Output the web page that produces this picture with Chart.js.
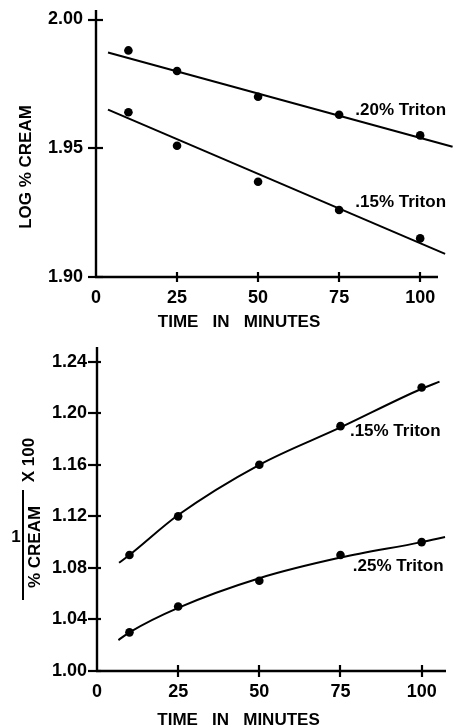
<!DOCTYPE html>
<html>
<head>
<meta charset="utf-8">
<script src="https://cdn.jsdelivr.net/npm/chart.js@4/dist/chart.umd.min.js"></script>
<style>
  html, body { margin: 0; padding: 0; background: #fff; }
  canvas { display: block; }
</style>
</head>
<body>
<canvas id="top" width="453" height="330"></canvas>
<canvas id="bottom" width="453" height="396"></canvas>
<script>
// ---------- data ----------
const timeMin = [10, 25, 50, 75, 100];

// upper panel: log % cream
const logCream20 = [1.988, 1.980, 1.970, 1.963, 1.955];
const logCream15 = [1.964, 1.951, 1.937, 1.926, 1.915];
const fit20X = [3.7, 110];
const fit20Y = [1.9872, 1.9506];
const fit15X = [3.7, 107.7];
const fit15Y = [1.965, 1.909];
const topXTicks = [0, 25, 50, 75, 100];
const topYTicks = [1.90, 1.95, 2.00];

// lower panel: 1 / % cream x 100
const invCream15 = [1.09, 1.12, 1.16, 1.19, 1.22];
const invCream25 = [1.03, 1.05, 1.07, 1.09, 1.10];
const curve15X = [6.8, 10, 25, 50, 75, 100, 105.5];
const curve15Y = [1.084, 1.090, 1.121, 1.160, 1.189, 1.219, 1.2245];
const curve25X = [6.6, 10, 25, 50, 75, 100, 107.2];
const curve25Y = [1.024, 1.030, 1.049, 1.072, 1.088, 1.100, 1.104];
const bottomXTicks = [0, 25, 50, 75, 100];
const bottomYTicks = [1.00, 1.04, 1.08, 1.12, 1.16, 1.20, 1.24];

// ---------- helpers ----------
const FONT = '"Liberation Sans", Arial, sans-serif';
const pts = (xs, ys) => xs.map((x, i) => ({ x: x, y: ys[i] }));

function dots(xs, ys) {
  return { type: 'scatter', data: pts(xs, ys), showLine: false,
    pointRadius: 4.3, pointHoverRadius: 4.3, backgroundColor: '#000', borderColor: '#000', borderWidth: 0 };
}
function curve(xs, ys, smooth) {
  return { type: 'line', data: pts(xs, ys), pointRadius: 0, borderColor: '#000', borderWidth: 2,
    fill: false, clip: false, cubicInterpolationMode: smooth ? 'monotone' : 'default', tension: 0 };
}

function crossTicks(yIn, yOut, xIn, xOut, axisTopExtra) {
  return {
    id: 'crossTicks',
    afterDraw(chart) {
      const ctx = chart.ctx, xs = chart.scales.x, ys = chart.scales.y;
      const a = chart.chartArea;
      const ax = a.left, ay = a.bottom;
      ctx.save();
      ctx.strokeStyle = '#000';
      ctx.lineWidth = 2.4;
      ctx.beginPath(); ctx.moveTo(ax, a.top); ctx.lineTo(ax, ay + 1); ctx.stroke();
      ctx.beginPath(); ctx.moveTo(ax - 1, ay); ctx.lineTo(a.right, ay); ctx.stroke();
      ctx.lineWidth = 2.2;
      ys.ticks.forEach(t => {
        const py = Math.round(ys.getPixelForValue(t.value));
        ctx.beginPath(); ctx.moveTo(ax - yOut, py); ctx.lineTo(ax + yIn, py); ctx.stroke();
      });
      xs.ticks.forEach(t => {
        if (t.value === 0) return;
        const px = Math.round(xs.getPixelForValue(t.value));
        ctx.beginPath(); ctx.moveTo(px, ay - xIn); ctx.lineTo(px, ay + xOut); ctx.stroke();
      });
      ctx.restore();
    }
  };
}

function textPlugin(items) {
  return {
    id: 'texts',
    afterDraw(chart) {
      const ctx = chart.ctx, xs = chart.scales.x, ys = chart.scales.y;
      ctx.save();
      ctx.fillStyle = '#000';
      items.forEach(it => {
        ctx.save();
        ctx.font = (it.weight || 'bold') + ' ' + (it.size || 17) + 'px ' + FONT;
        let px = it.px, py = it.py;
        if (it.dx !== undefined) { px = xs.getPixelForValue(it.dx); py = ys.getPixelForValue(it.dy); }
        ctx.translate(px, py);
        if (it.rot) ctx.rotate(it.rot);
        ctx.textAlign = it.align || 'center';
        ctx.textBaseline = 'middle';
        ctx.fillText(it.text, 0, 0);
        ctx.restore();
      });
      (chart.options.plugins.bars || []).forEach(b => {
        ctx.lineWidth = 2; ctx.strokeStyle = '#000';
        ctx.beginPath(); ctx.moveTo(b.x, b.y1); ctx.lineTo(b.x, b.y2); ctx.stroke();
      });
      ctx.restore();
    }
  };
}

function scales(xMin, xMax, yMin, yMax, xTicks, yTicks, yWidth, xHeight, yPad, xPad) {
  return {
    x: {
      type: 'linear', min: xMin, max: xMax,
      grid: { display: false, drawTicks: false },
      border: { display: false },
      afterBuildTicks: s => { s.ticks = xTicks.map(v => ({ value: v })); },
      afterFit: s => { s.height = xHeight; s.paddingLeft = 0; s.paddingRight = 0; },
      ticks: { color: '#000', padding: xPad, maxRotation: 0, autoSkip: false,
        font: { family: FONT, size: 18, weight: 'bold' }, callback: v => String(v) }
    },
    y: {
      type: 'linear', min: yMin, max: yMax,
      grid: { display: false, drawTicks: false },
      border: { display: false },
      afterBuildTicks: s => { s.ticks = yTicks.map(v => ({ value: v })); },
      afterFit: s => { s.width = yWidth; s.paddingTop = 0; s.paddingBottom = 0; },
      ticks: { color: '#000', padding: yPad, autoSkip: false,
        font: { family: FONT, size: 18, weight: 'bold' }, callback: v => Number(v).toFixed(2) }
    }
  };
}

const common = {
  responsive: false, animation: false, devicePixelRatio: 1,
  events: [],
  plugins: { legend: { display: false }, tooltip: { enabled: false }, title: { display: false } }
};

// ---------- upper chart ----------
new Chart(document.getElementById('top'), {
  type: 'line',
  data: { datasets: [
    curve(fit20X, fit20Y, false),
    curve(fit15X, fit15Y, false),
    dots(timeMin, logCream20),
    dots(timeMin, logCream15)
  ] },
  options: Object.assign({}, common, {
    layout: { padding: { top: 10, right: 15, left: 0, bottom: 0 } },
    scales: scales(0, 105.5, 1.90, 2.0037, topXTicks, topYTicks, 96, 53, 13, 10)
  }),
  plugins: [crossTicks(7, 8, 5, 5), textPlugin([
    { text: '.20% Triton', dx: 80, dy: 1.9649, align: 'left' },
    { text: '.15% Triton', dx: 80, dy: 1.9289, align: 'left' },
    { text: 'LOG % CREAM', px: 26, py: 167, rot: -Math.PI / 2 },
    { text: 'TIME   IN   MINUTES', px: 239, py: 322 }
  ])]
});

// ---------- lower chart ----------
new Chart(document.getElementById('bottom'), {
  type: 'line',
  data: { datasets: [
    curve(curve15X, curve15Y, true),
    curve(curve25X, curve25Y, true),
    dots(timeMin, invCream15),
    dots(timeMin, invCream25)
  ] },
  options: Object.assign({}, common, {
    layout: { padding: { top: 17, right: 7, left: 0, bottom: 0 } },
    scales: scales(0, 107.5, 1.00, 1.2514, bottomXTicks, bottomYTicks, 97, 55, 10, 10),
    plugins: Object.assign({}, common.plugins, { bars: [{ x: 23, y1: 160, y2: 270 }] })
  }),
  plugins: [crossTicks(4, 9, 6, 6), textPlugin([
    { text: '.15% Triton', dx: 77.9, dy: 1.1857, align: 'left' },
    { text: '.25% Triton', dx: 78.8, dy: 1.0815, align: 'left' },
    { text: '1', px: 16, py: 207.5 },
    { text: '% CREAM', px: 35, py: 217, rot: -Math.PI / 2 },
    { text: 'X 100', px: 29, py: 130, rot: -Math.PI / 2 },
    { text: 'TIME   IN   MINUTES', px: 238.5, py: 390 }
  ])]
});
</script>
</body>
</html>
